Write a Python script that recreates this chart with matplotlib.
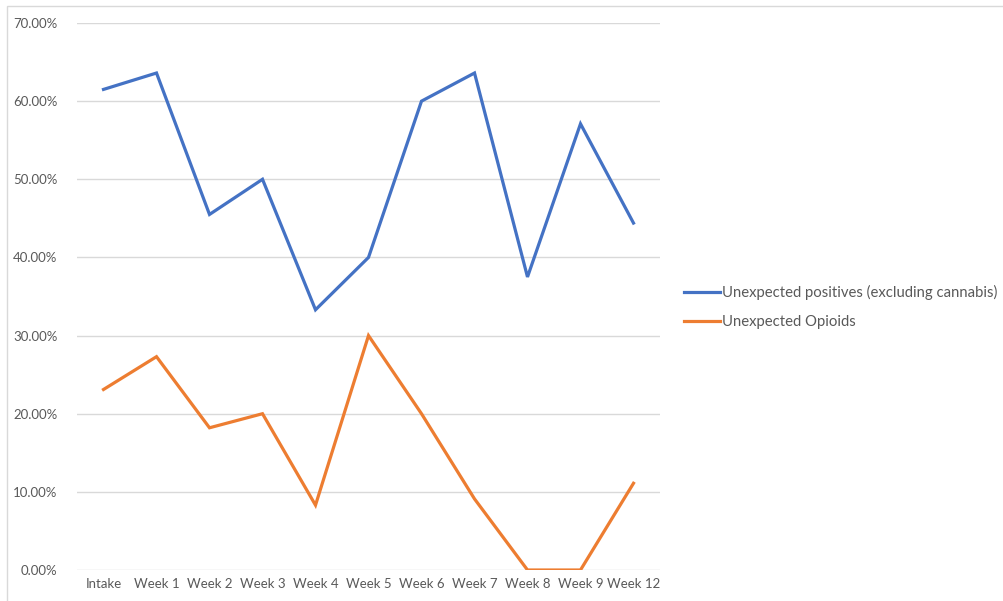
import matplotlib
matplotlib.use("Agg")
import matplotlib.pyplot as plt
from matplotlib.patches import Rectangle
from matplotlib.ticker import PercentFormatter

weeks = ["Intake", "Week 1", "Week 2", "Week 3", "Week 4", "Week 5",
         "Week 6", "Week 7", "Week 8", "Week 9", "Week 12"]
unexpected_pos = [61.5, 63.6, 45.5, 50.0, 33.3, 40.0, 60.0, 63.6, 37.5, 57.1, 44.4]
unexpected_opioids = [23.1, 27.3, 18.2, 20.0, 8.3, 30.0, 20.0, 9.1, 0.0, 0.0, 11.1]

plt.rcParams["font.family"] = ["Lato", "DejaVu Sans"]
GREY = "#595959"

fig = plt.figure(figsize=(10.04, 6.01), dpi=100)
# thin frame round the chart area
fig.patches.append(Rectangle((7 / 1004, -0.1), 1.2, 1 - 6 / 601 + 0.1,
                             transform=fig.transFigure, fill=False,
                             edgecolor="#d9d9d9", lw=1.0))

ax = fig.add_axes([77 / 1004, 1 - 570 / 601, 583 / 1004, 547 / 601])
x = range(len(weeks))
ax.plot(x, unexpected_pos, color="#4472C4", lw=2.3,
        label="Unexpected positives (excluding cannabis)", solid_joinstyle="miter")
ax.plot(x, unexpected_opioids, color="#ED7D31", lw=2.3,
        label="Unexpected Opioids", solid_joinstyle="miter")

ax.set_xlim(-0.5, len(weeks) - 0.5)
ax.set_ylim(0, 70)
ax.set_yticks(range(0, 71, 10))
ax.yaxis.set_major_formatter(PercentFormatter(decimals=2))
ax.set_xticks(list(x))
ax.set_xticklabels(weeks)
ax.grid(axis="y", color="#d9d9d9", lw=1.0)
ax.set_axisbelow(True)
for s in ax.spines.values():
    s.set_visible(False)
ax.tick_params(length=0, labelsize=9.5, colors=GREY, pad=6)
ax.tick_params(axis="y", pad=14)

ax.legend(loc="center left", bbox_to_anchor=(672 / 1004, 1 - 307 / 601),
          bbox_transform=fig.transFigure, frameon=False, fontsize=10.7,
          handlelength=2.4, handletextpad=0.15, labelspacing=1.05,
          labelcolor=GREY, borderpad=0.3)

fig.savefig("out.png", dpi=100)
